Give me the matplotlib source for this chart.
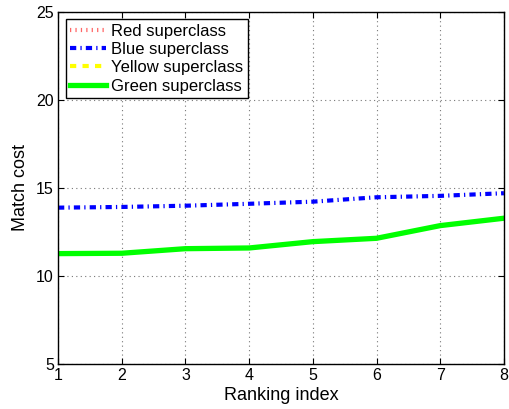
import numpy as np
import matplotlib
matplotlib.use("Agg")
import matplotlib.pyplot as plt

plt.rcParams['font.family'] = ['Liberation Sans', 'DejaVu Sans']

ranking = [1, 2, 3, 4, 5, 6, 7, 8]
# Red and yellow series are not visible within the plotted range
red = [np.nan] * 8
blue = [13.88, 13.92, 13.99, 14.10, 14.22, 14.47, 14.55, 14.70]
yellow = [np.nan] * 8
green = [11.27, 11.29, 11.55, 11.59, 11.95, 12.14, 12.86, 13.28]

fig = plt.figure(figsize=(5.09, 4.09), dpi=100)
ax = fig.add_axes([0.114, 0.110, 0.876, 0.861])

ax.plot(ranking, red, color='#ff6666', linestyle=(0, (0.3, 1.0)), linewidth=3, label='Red superclass')
ax.plot(ranking, blue, color='#0000ff', linestyle=(0, (1.5, 1.0, 0.3, 1.0)), linewidth=3,
        label='Blue superclass')
ax.plot(ranking, yellow, color='#ffff00', linestyle=(0, (1.5, 1.5)), linewidth=3, label='Yellow superclass')
ax.plot(ranking, green, color='#00ff00', linestyle='-', linewidth=3.8, label='Green superclass')

ax.set_xlim(1, 8)
ax.set_ylim(5, 25)
ax.set_xticks(ranking)
ax.set_yticks([5, 10, 15, 20, 25])
ax.grid(True, linestyle=(0, (1, 3)), color='#777777', linewidth=0.8)
ax.tick_params(direction='in', labelsize=11.5, length=4, top=True, right=True, pad=3)
ax.set_xlabel('Ranking index', fontsize=13, labelpad=3)
ax.set_ylabel('Match cost', fontsize=13, labelpad=5)
for s in ax.spines.values():
    s.set_linewidth(1)

leg = ax.legend(loc='upper left', fontsize=12, fancybox=False, framealpha=1,
                edgecolor='black', borderaxespad=0.45, handlelength=2.2,
                labelspacing=0.2, borderpad=0.25, handletextpad=0.3)
leg.get_frame().set_linewidth(1)

fig.savefig('out.png', dpi=100)
